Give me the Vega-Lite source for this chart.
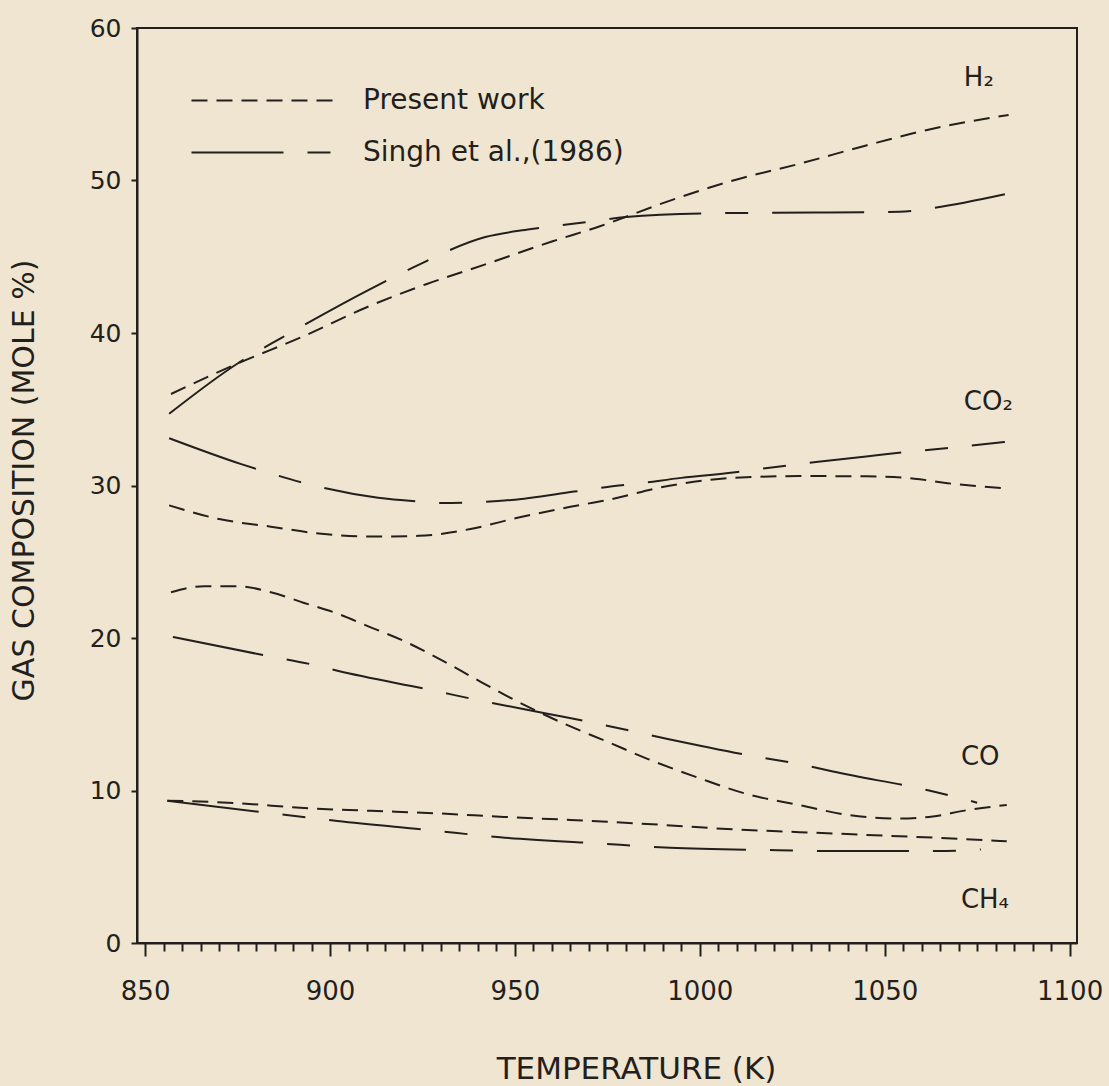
{
  "$schema": "https://vega.github.io/schema/vega-lite/v6.json",
  "width": 940,
  "height": 915,
  "autosize": {"type": "none"},
  "padding": {"left": 137, "top": 28, "right": 32, "bottom": 143},
  "background": "#f0e5d1",
  "config": {
    "view": {"stroke": "#231f1c", "strokeWidth": 2},
    "font": "DejaVu Sans"
  },
  "datasets": {
    "curves": [
      {"gas": "H2", "source": "Present work", "T": 857, "V": 36.0},
      {"gas": "H2", "source": "Present work", "T": 875, "V": 38.0},
      {"gas": "H2", "source": "Present work", "T": 892, "V": 39.7},
      {"gas": "H2", "source": "Present work", "T": 911, "V": 41.8},
      {"gas": "H2", "source": "Present work", "T": 926, "V": 43.2},
      {"gas": "H2", "source": "Present work", "T": 942, "V": 44.5},
      {"gas": "H2", "source": "Present work", "T": 960, "V": 46.0},
      {"gas": "H2", "source": "Present work", "T": 973, "V": 47.0},
      {"gas": "H2", "source": "Present work", "T": 991, "V": 48.6},
      {"gas": "H2", "source": "Present work", "T": 1009, "V": 50.0},
      {"gas": "H2", "source": "Present work", "T": 1027, "V": 51.1},
      {"gas": "H2", "source": "Present work", "T": 1045, "V": 52.3},
      {"gas": "H2", "source": "Present work", "T": 1063, "V": 53.4},
      {"gas": "H2", "source": "Present work", "T": 1083.5, "V": 54.3},

      {"gas": "H2", "source": "Singh et al.,(1986)", "T": 856.5, "V": 34.7},
      {"gas": "H2", "source": "Singh et al.,(1986)", "T": 875, "V": 38.0},
      {"gas": "H2", "source": "Singh et al.,(1986)", "T": 887, "V": 39.7},
      {"gas": "H2", "source": "Singh et al.,(1986)", "T": 911, "V": 42.9},
      {"gas": "H2", "source": "Singh et al.,(1986)", "T": 922.5, "V": 44.3},
      {"gas": "H2", "source": "Singh et al.,(1986)", "T": 942, "V": 46.3},
      {"gas": "H2", "source": "Singh et al.,(1986)", "T": 954, "V": 46.8},
      {"gas": "H2", "source": "Singh et al.,(1986)", "T": 968.5, "V": 47.25},
      {"gas": "H2", "source": "Singh et al.,(1986)", "T": 980, "V": 47.6},
      {"gas": "H2", "source": "Singh et al.,(1986)", "T": 1002.5, "V": 47.85},
      {"gas": "H2", "source": "Singh et al.,(1986)", "T": 1031, "V": 47.9},
      {"gas": "H2", "source": "Singh et al.,(1986)", "T": 1054, "V": 47.95},
      {"gas": "H2", "source": "Singh et al.,(1986)", "T": 1063, "V": 48.2},
      {"gas": "H2", "source": "Singh et al.,(1986)", "T": 1082.5, "V": 49.1},

      {"gas": "CO2", "source": "Present work", "T": 856.5, "V": 28.7},
      {"gas": "CO2", "source": "Present work", "T": 870, "V": 27.8},
      {"gas": "CO2", "source": "Present work", "T": 884, "V": 27.3},
      {"gas": "CO2", "source": "Present work", "T": 897, "V": 26.85},
      {"gas": "CO2", "source": "Present work", "T": 911, "V": 26.65},
      {"gas": "CO2", "source": "Present work", "T": 924, "V": 26.7},
      {"gas": "CO2", "source": "Present work", "T": 938, "V": 27.15},
      {"gas": "CO2", "source": "Present work", "T": 951, "V": 27.9},
      {"gas": "CO2", "source": "Present work", "T": 965, "V": 28.6},
      {"gas": "CO2", "source": "Present work", "T": 975, "V": 29.05},
      {"gas": "CO2", "source": "Present work", "T": 991, "V": 29.95},
      {"gas": "CO2", "source": "Present work", "T": 1009, "V": 30.5},
      {"gas": "CO2", "source": "Present work", "T": 1027, "V": 30.62},
      {"gas": "CO2", "source": "Present work", "T": 1045, "V": 30.6},
      {"gas": "CO2", "source": "Present work", "T": 1058, "V": 30.45},
      {"gas": "CO2", "source": "Present work", "T": 1067, "V": 30.15},
      {"gas": "CO2", "source": "Present work", "T": 1083, "V": 29.8},

      {"gas": "CO2", "source": "Singh et al.,(1986)", "T": 856.5, "V": 33.1},
      {"gas": "CO2", "source": "Singh et al.,(1986)", "T": 876, "V": 31.4},
      {"gas": "CO2", "source": "Singh et al.,(1986)", "T": 888, "V": 30.5},
      {"gas": "CO2", "source": "Singh et al.,(1986)", "T": 894, "V": 30.1},
      {"gas": "CO2", "source": "Singh et al.,(1986)", "T": 913, "V": 29.2},
      {"gas": "CO2", "source": "Singh et al.,(1986)", "T": 924, "V": 28.95},
      {"gas": "CO2", "source": "Singh et al.,(1986)", "T": 930, "V": 28.85},
      {"gas": "CO2", "source": "Singh et al.,(1986)", "T": 949, "V": 29.05},
      {"gas": "CO2", "source": "Singh et al.,(1986)", "T": 966, "V": 29.6},
      {"gas": "CO2", "source": "Singh et al.,(1986)", "T": 975, "V": 29.9},
      {"gas": "CO2", "source": "Singh et al.,(1986)", "T": 984, "V": 30.15},
      {"gas": "CO2", "source": "Singh et al.,(1986)", "T": 995, "V": 30.5},
      {"gas": "CO2", "source": "Singh et al.,(1986)", "T": 1009, "V": 30.85},
      {"gas": "CO2", "source": "Singh et al.,(1986)", "T": 1020, "V": 31.2},
      {"gas": "CO2", "source": "Singh et al.,(1986)", "T": 1032, "V": 31.55},
      {"gas": "CO2", "source": "Singh et al.,(1986)", "T": 1045, "V": 31.9},
      {"gas": "CO2", "source": "Singh et al.,(1986)", "T": 1056, "V": 32.2},
      {"gas": "CO2", "source": "Singh et al.,(1986)", "T": 1066.5, "V": 32.45},
      {"gas": "CO2", "source": "Singh et al.,(1986)", "T": 1082.5, "V": 32.85},

      {"gas": "CO", "source": "Present work", "T": 857, "V": 23.0},
      {"gas": "CO", "source": "Present work", "T": 866, "V": 23.4},
      {"gas": "CO", "source": "Present work", "T": 875, "V": 23.4},
      {"gas": "CO", "source": "Present work", "T": 884, "V": 23.0},
      {"gas": "CO", "source": "Present work", "T": 893, "V": 22.3},
      {"gas": "CO", "source": "Present work", "T": 902, "V": 21.6},
      {"gas": "CO", "source": "Present work", "T": 911, "V": 20.7},
      {"gas": "CO", "source": "Present work", "T": 920, "V": 19.8},
      {"gas": "CO", "source": "Present work", "T": 929, "V": 18.7},
      {"gas": "CO", "source": "Present work", "T": 938, "V": 17.5},
      {"gas": "CO", "source": "Present work", "T": 947, "V": 16.3},
      {"gas": "CO", "source": "Present work", "T": 956, "V": 15.2},
      {"gas": "CO", "source": "Present work", "T": 965, "V": 14.2},
      {"gas": "CO", "source": "Present work", "T": 974, "V": 13.3},
      {"gas": "CO", "source": "Present work", "T": 986, "V": 12.06},
      {"gas": "CO", "source": "Present work", "T": 1000, "V": 10.8},
      {"gas": "CO", "source": "Present work", "T": 1013, "V": 9.75},
      {"gas": "CO", "source": "Present work", "T": 1027, "V": 9.04},
      {"gas": "CO", "source": "Present work", "T": 1040, "V": 8.4},
      {"gas": "CO", "source": "Present work", "T": 1054, "V": 8.16},
      {"gas": "CO", "source": "Present work", "T": 1063, "V": 8.3},
      {"gas": "CO", "source": "Present work", "T": 1072, "V": 8.7},
      {"gas": "CO", "source": "Present work", "T": 1083, "V": 9.05},

      {"gas": "CO", "source": "Singh et al.,(1986)", "T": 857.5, "V": 20.07},
      {"gas": "CO", "source": "Singh et al.,(1986)", "T": 883, "V": 18.83},
      {"gas": "CO", "source": "Singh et al.,(1986)", "T": 895, "V": 18.27},
      {"gas": "CO", "source": "Singh et al.,(1986)", "T": 902, "V": 17.85},
      {"gas": "CO", "source": "Singh et al.,(1986)", "T": 927, "V": 16.6},
      {"gas": "CO", "source": "Singh et al.,(1986)", "T": 940, "V": 15.93},
      {"gas": "CO", "source": "Singh et al.,(1986)", "T": 959.5, "V": 15.0},
      {"gas": "CO", "source": "Singh et al.,(1986)", "T": 972, "V": 14.4},
      {"gas": "CO", "source": "Singh et al.,(1986)", "T": 991, "V": 13.4},
      {"gas": "CO", "source": "Singh et al.,(1986)", "T": 1015, "V": 12.23},
      {"gas": "CO", "source": "Singh et al.,(1986)", "T": 1029, "V": 11.63},
      {"gas": "CO", "source": "Singh et al.,(1986)", "T": 1036, "V": 11.24},
      {"gas": "CO", "source": "Singh et al.,(1986)", "T": 1062, "V": 10.0},
      {"gas": "CO", "source": "Singh et al.,(1986)", "T": 1075, "V": 9.2},

      {"gas": "CH4", "source": "Present work", "T": 856, "V": 9.33},
      {"gas": "CH4", "source": "Present work", "T": 875, "V": 9.17},
      {"gas": "CH4", "source": "Present work", "T": 893, "V": 8.85},
      {"gas": "CH4", "source": "Present work", "T": 911, "V": 8.67},
      {"gas": "CH4", "source": "Present work", "T": 929, "V": 8.5},
      {"gas": "CH4", "source": "Present work", "T": 947, "V": 8.27},
      {"gas": "CH4", "source": "Present work", "T": 965, "V": 8.07},
      {"gas": "CH4", "source": "Present work", "T": 975, "V": 7.95},
      {"gas": "CH4", "source": "Present work", "T": 991, "V": 7.73},
      {"gas": "CH4", "source": "Present work", "T": 1009, "V": 7.45},
      {"gas": "CH4", "source": "Present work", "T": 1027, "V": 7.27},
      {"gas": "CH4", "source": "Present work", "T": 1045, "V": 7.09},
      {"gas": "CH4", "source": "Present work", "T": 1063, "V": 6.91},
      {"gas": "CH4", "source": "Present work", "T": 1083, "V": 6.67},

      {"gas": "CH4", "source": "Singh et al.,(1986)", "T": 856, "V": 9.33},
      {"gas": "CH4", "source": "Singh et al.,(1986)", "T": 881, "V": 8.6},
      {"gas": "CH4", "source": "Singh et al.,(1986)", "T": 902, "V": 8.0},
      {"gas": "CH4", "source": "Singh et al.,(1986)", "T": 927, "V": 7.4},
      {"gas": "CH4", "source": "Singh et al.,(1986)", "T": 946, "V": 6.93},
      {"gas": "CH4", "source": "Singh et al.,(1986)", "T": 972.5, "V": 6.53},
      {"gas": "CH4", "source": "Singh et al.,(1986)", "T": 992, "V": 6.25},
      {"gas": "CH4", "source": "Singh et al.,(1986)", "T": 1017, "V": 6.1},
      {"gas": "CH4", "source": "Singh et al.,(1986)", "T": 1039, "V": 6.03},
      {"gas": "CH4", "source": "Singh et al.,(1986)", "T": 1064, "V": 6.03},
      {"gas": "CH4", "source": "Singh et al.,(1986)", "T": 1076, "V": 6.13}
    ],
    "labels": [
      {"lab": "H₂", "T": 1071.4, "V": 56.7},
      {"lab": "CO₂", "T": 1071.4, "V": 35.5},
      {"lab": "CO", "T": 1070.6, "V": 12.2},
      {"lab": "CH₄", "T": 1070.6, "V": 2.8}
    ]
  },
  "layer": [
    {
      "data": {"name": "curves"},
      "mark": {"type": "line", "interpolate": "monotone", "strokeWidth": 2, "color": "#231f1c"},
      "encoding": {
        "x": {
          "field": "T", "type": "quantitative",
          "scale": {"domain": [847.8, 1102], "nice": false, "zero": false},
          "axis": {
            "values": [850,855,860,865,870,875,880,885,890,895,900,905,910,915,920,925,930,935,940,945,950,955,960,965,970,975,980,985,990,995,1000,1005,1010,1015,1020,1025,1030,1035,1040,1045,1050,1055,1060,1065,1070,1075,1080,1085,1090,1095,1100],
            "tickCount": 200,
            "labelExpr": "datum.value % 50 === 0 ? datum.label : ''",
            "format": "d",
            "tickSize": {"condition": {"test": "datum.value % 50 === 0", "value": 13}, "value": 8},
            "tickColor": "#231f1c", "tickWidth": 2,
            "domainColor": "#231f1c", "domainWidth": 2,
            "labelFontSize": 26, "labelColor": "#231f1c", "labelPadding": 22,
            "labelOverlap": false, "labelFlush": false,
            "grid": false,
            "title": "TEMPERATURE (K)",
            "titleFontSize": 31, "titleFontWeight": "normal", "titleColor": "#231f1c",
            "titleX": 499, "titleY": 126, "titleBaseline": "middle", "titleAlign": "center", "titleAnchor": null
          }
        },
        "y": {
          "field": "V", "type": "quantitative",
          "scale": {"domain": [0, 60], "nice": false},
          "axis": {
            "values": [0, 10, 20, 30, 40, 50, 60],
            "tickSize": 6, "tickColor": "#231f1c", "tickWidth": 2,
            "domainColor": "#231f1c", "domainWidth": 2,
            "labelFontSize": 25, "labelColor": "#231f1c", "labelPadding": 10,
            "grid": false,
            "title": "GAS COMPOSITION (MOLE %)",
            "titleFontSize": 30, "titleFontWeight": "normal", "titleColor": "#231f1c",
            "titleX": -113, "titleY": 452, "titleAngle": 270, "titleAlign": "center", "titleBaseline": "middle", "titleAnchor": null
          }
        },
        "detail": {"field": "gas", "type": "nominal"},
        "strokeDash": {
          "field": "source", "type": "nominal",
          "scale": {"domain": ["Present work", "Singh et al.,(1986)"], "range": [[16, 9], [92, 24, 23, 24]]},
          "legend": {
            "orient": "none", "legendX": 53, "legendY": 57,
            "title": null,
            "symbolType": "M-5,0H5", "symbolSize": 807, "symbolStrokeWidth": 2,
            "symbolStrokeColor": "#231f1c", "symbolFillColor": "transparent",
            "symbolOffset": 57,
            "labelFontSize": 28, "labelColor": "#231f1c", "labelOffset": 85,
            "rowPadding": 22, "labelLimit": 400
          }
        }
      }
    },
    {
      "data": {"name": "labels"},
      "mark": {"type": "text", "align": "left", "baseline": "middle", "fontSize": 26, "color": "#231f1c"},
      "encoding": {
        "x": {"field": "T", "type": "quantitative"},
        "y": {"field": "V", "type": "quantitative"},
        "text": {"field": "lab", "type": "nominal"}
      }
    }
  ]
}
